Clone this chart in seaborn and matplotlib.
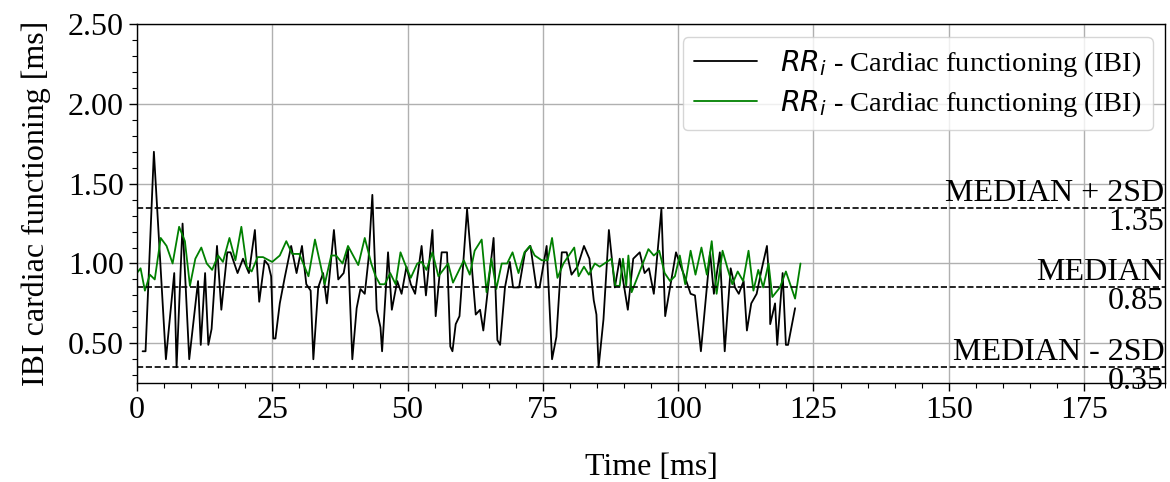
import matplotlib
matplotlib.use("Agg")
import matplotlib.pyplot as plt
import seaborn as sns
import pandas as pd
from matplotlib.ticker import MultipleLocator, FormatStrFormatter

# Black series (time, IBI)
black_t = [1.05, 1.6, 3.14, 5.36, 6.9, 7.33, 8.44, 9.67, 11.3, 11.8, 12.6, 13.2, 13.8, 14.8,
           15.6, 16.7, 17.3, 18.6, 19.6, 20.7, 21.8, 22.6, 23.6, 24.3, 24.8, 25.2, 25.6, 26.4,
           27.3, 28.5, 29.5, 30.5, 31.3, 32.1, 32.6, 33.5, 34.4, 35.1, 36.4, 37.2, 38.2, 39.0,
           39.8, 40.6, 41.3, 42.1, 42.8, 43.5, 44.3, 45.0, 45.3, 46.4, 47.1, 48.1, 48.9, 49.8,
           50.6, 51.4, 52.6, 53.4, 54.6, 55.2, 56.3, 57.3, 57.9, 58.3, 58.9, 59.6, 61.0, 62.6,
           63.4, 64.0, 65.9, 66.6, 67.1, 68.0, 68.9, 69.5, 70.6, 71.7, 72.7, 73.8, 74.4, 75.7,
           76.7, 77.5, 78.5, 79.4, 80.3, 81.4, 82.6, 83.6, 84.4, 84.9, 85.3, 86.2, 87.2, 88.3,
           89.2, 89.8, 90.7, 91.7, 92.9, 93.8, 94.6, 95.5, 96.9, 97.6, 98.5, 99.6, 100.4, 101.5,
           102.3, 103.1, 104.2, 105.9, 106.6, 107.7, 108.6, 109.7, 110.5, 111.2, 112.1, 112.7,
           113.5, 114.5, 115.4, 116.4, 116.9, 117.0, 117.9, 118.3, 119.3, 119.9, 120.3, 121.6]
black_v = [0.45, 0.45, 1.70, 0.40, 0.94, 0.35, 1.25, 0.40, 0.89, 0.49, 0.94, 0.49, 0.59, 1.11,
           0.71, 1.07, 1.07, 0.94, 1.03, 0.94, 1.21, 0.76, 1.02, 0.99, 0.92, 0.53, 0.53, 0.75,
           0.91, 1.11, 0.94, 1.11, 0.87, 0.83, 0.40, 0.85, 0.94, 0.75, 1.21, 0.90, 0.94, 1.09,
           0.40, 0.72, 0.84, 0.81, 1.03, 1.43, 0.71, 0.60, 0.45, 1.07, 0.71, 0.89, 0.81, 0.98,
           0.87, 0.81, 1.11, 0.80, 1.21, 0.67, 1.07, 1.07, 0.48, 0.45, 0.62, 0.67, 1.34, 0.68,
           0.71, 0.58, 1.16, 0.52, 0.49, 0.85, 1.01, 0.85, 0.85, 1.07, 1.11, 0.85, 0.85, 1.11,
           0.40, 0.54, 1.07, 1.07, 0.93, 0.98, 1.11, 1.03, 0.77, 0.68, 0.35, 0.65, 1.21, 0.85,
           1.03, 0.90, 0.71, 1.03, 1.07, 0.94, 0.97, 0.81, 1.34, 0.67, 0.85, 1.07, 0.99, 0.89,
           0.81, 0.80, 0.45, 1.07, 0.81, 1.07, 0.45, 0.97, 0.85, 0.81, 0.89, 0.58,
           0.75, 0.81, 0.96, 1.11, 0.85, 0.62, 0.75, 0.49, 0.94, 0.49, 0.49, 0.72]

# Green series (time, IBI)
green_t = [0.0, 0.68, 1.48, 2.4, 3.3, 4.4, 5.48, 6.6, 7.8, 8.87, 9.8, 10.8, 11.9, 12.9, 13.9,
           15.0, 15.9, 17.1, 18.2, 19.3, 20.3, 21.2, 22.3, 23.3, 24.4, 25.0, 26.4, 27.6, 28.7,
           30.0, 31.7, 32.9, 34.7, 35.9, 36.8, 38.0, 39.0, 40.9, 42.1, 43.3, 44.1, 44.9, 45.8,
           46.8, 47.8, 48.7, 49.5, 50.6, 51.8, 52.6, 53.5, 54.6, 55.7, 57.5, 58.4, 60.4, 61.5,
           62.4, 63.7, 64.6, 65.5, 66.4, 67.4, 68.4, 69.4, 70.5, 71.6, 72.6, 73.5, 74.8, 75.9,
           76.7, 77.7, 78.8, 80.8, 81.6, 82.6, 83.5, 84.6, 85.5, 87.7, 88.4, 89.2, 89.8, 90.4,
           90.8, 91.4, 94.5, 95.5, 96.5, 97.5, 98.5, 99.4, 100.3, 101.3, 102.3, 103.2, 104.3,
           105.3, 106.2, 107.1, 108.2, 109.2, 110.0, 111.0, 112.0, 113.0, 113.9, 114.8, 115.7,
           116.7, 117.4, 118.8, 119.9, 121.6, 122.6]
green_v = [0.94, 0.97, 0.83, 0.93, 0.90, 1.16, 1.11, 1.00, 1.23, 1.14, 0.86, 1.03, 1.10, 1.00, 0.96,
           1.05, 1.01, 1.16, 1.02, 1.23, 0.98, 0.95, 1.04, 1.04, 1.02, 1.01, 1.05, 1.14, 1.06,
           1.06, 0.92, 1.15, 0.87, 1.05, 1.05, 1.00, 1.11, 0.99, 1.16, 1.00, 0.92, 0.87, 0.87,
           0.94, 0.87, 1.07, 1.00, 0.91, 1.00, 1.01, 0.96, 1.07, 0.92, 1.00, 0.88, 1.02, 0.93,
           1.08, 1.15, 0.82, 1.03, 0.84, 1.00, 1.00, 1.07, 0.94, 1.07, 1.11, 1.05, 1.02, 1.02,
           1.16, 0.91, 1.00, 1.10, 0.92, 0.98, 0.93, 1.00, 0.98, 1.03, 0.86, 0.86, 1.03, 0.86,
           1.05, 0.82, 1.09, 1.05, 1.08, 0.94, 0.89, 0.92, 1.05, 0.87, 1.08, 0.93, 1.10,
           0.93, 1.14, 0.81, 1.08, 0.96, 0.87, 0.95, 0.89, 1.08, 0.83, 0.96, 0.85,
           1.00, 0.79, 0.85, 0.95, 0.78, 1.00]

ref_values = [1.35, 0.85, 0.35]
ref_labels = ["MEDIAN + 2SD", "MEDIAN", "MEDIAN - 2SD"]
legend_label = r"$RR_i$ - Cardiac functioning (IBI)"

sns.set_style("ticks")
plt.rcParams["font.family"] = ["Liberation Serif", "DejaVu Serif"]
plt.rcParams["mathtext.fontset"] = "dejavusans"
for k in ["text.color", "axes.labelcolor", "xtick.color", "ytick.color"]:
    plt.rcParams[k] = "black"

fig = plt.figure(figsize=(11.7, 4.82), dpi=100)
ax = fig.add_axes([0.117, 0.205, 0.879, 0.745])

df_b = pd.DataFrame({"t": black_t, "v": black_v})
df_g = pd.DataFrame({"t": green_t, "v": green_v})
sns.lineplot(data=df_b, x="t", y="v", ax=ax, color="black", linewidth=1.3, label=legend_label)
sns.lineplot(data=df_g, x="t", y="v", ax=ax, color="green", linewidth=1.3, label=legend_label)

for val, lab in zip(ref_values, ref_labels):
    ax.axhline(val, color="black", linestyle="--", linewidth=1.2)
    ax.text(189.8, val, lab, ha="right", va="bottom", fontsize=23)
    ax.text(189.8, val, f"{val:.2f}", ha="right", va="top", fontsize=23)

ax.set_xlim(0, 190)
ax.set_ylim(0.25, 2.5)
ax.xaxis.set_major_locator(MultipleLocator(25))
ax.xaxis.set_minor_locator(MultipleLocator(5))
ax.yaxis.set_major_locator(MultipleLocator(0.5))
ax.yaxis.set_minor_locator(MultipleLocator(0.1))
ax.yaxis.set_major_formatter(FormatStrFormatter("%.2f"))
ax.grid(True, which="major", color="#b0b0b0", linewidth=1.0)
ax.tick_params(axis="both", which="major", labelsize=23, length=6, width=1, direction="out")
ax.tick_params(axis="both", which="minor", length=3.5, width=0.8, direction="out")
for s in ax.spines.values():
    s.set_visible(True)
    s.set_color("black")
    s.set_linewidth(1.0)

ax.set_xlabel("Time [ms]", fontsize=23, labelpad=20)
ax.set_ylabel("IBI cardiac functioning [ms]", fontsize=23, labelpad=12)

leg = ax.legend(loc="upper right", fontsize=20.5, frameon=True, fancybox=True, framealpha=0.8,
                borderaxespad=0.45, handlelength=2.2, labelspacing=0.3)
leg.get_frame().set_edgecolor("#cccccc")

fig.savefig("out.png", dpi=100)
